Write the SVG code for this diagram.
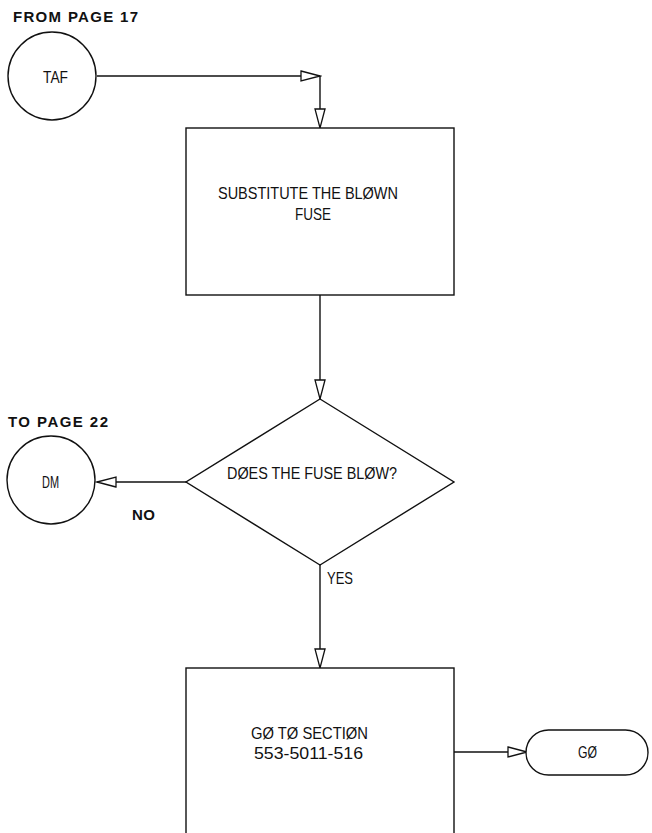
<svg xmlns="http://www.w3.org/2000/svg" width="652" height="833" viewBox="0 0 652 833">
<style>
.s{fill:none;stroke:#111;stroke-width:1.4}
.n{fill:#fff;stroke:#111;stroke-width:1.4}
.t{font-family:"Liberation Sans",Arial,sans-serif;font-size:16.5px;fill:#111}
.b{font-family:"Liberation Sans",Arial,sans-serif;font-size:15px;font-weight:bold;fill:#111}
</style>
<defs>
<marker id="ah" markerUnits="userSpaceOnUse" markerWidth="22" markerHeight="12" refX="20" refY="6" orient="auto">
<path d="M1,1 L20,6 L1,11 Z" fill="#fff" stroke="#111" stroke-width="1.3"/>
</marker>
</defs>
<rect width="652" height="833" fill="#fff"/>
<text class="b" x="13" y="22" textLength="125" lengthAdjust="spacing">FROM PAGE 17</text>
<text class="b" x="8" y="427" textLength="100" lengthAdjust="spacing">TO PAGE 22</text>
<text class="b" x="132" y="520" textLength="23" lengthAdjust="spacing">NO</text>
<g id="connectors">
<path class="s" d="M97,76 H320" marker-end="url(#ah)"/>
<path class="s" d="M320,76 V128" marker-end="url(#ah)"/>
<path class="s" d="M320,295 V399" marker-end="url(#ah)"/>
<path class="s" d="M186,482 H97" marker-end="url(#ah)"/>
<path class="s" d="M320,565 V668" marker-end="url(#ah)"/>
<path class="s" d="M454,752 H527" marker-end="url(#ah)"/>
<text class="t" x="327" y="584" textLength="26" lengthAdjust="spacingAndGlyphs">YES</text>
</g>
<g id="taf">
<circle class="n" cx="52" cy="76" r="44"/>
<text class="t" x="43" y="83" textLength="25" lengthAdjust="spacingAndGlyphs">TAF</text>
</g>
<g id="substitute">
<rect class="n" x="186" y="128" width="268" height="167"/>
<text class="t" x="218" y="199" textLength="180" lengthAdjust="spacingAndGlyphs">SUBSTITUTE THE BLØWN</text>
<text class="t" x="295" y="220" textLength="36" lengthAdjust="spacingAndGlyphs">FUSE</text>
</g>
<g id="decision">
<polygon class="n" points="320,399 454,482 320,565 186,482"/>
<text class="t" x="227" y="479" textLength="170" lengthAdjust="spacingAndGlyphs">DØES THE FUSE BLØW?</text>
</g>
<g id="dm">
<circle class="n" cx="51" cy="480" r="44"/>
<text class="t" x="42" y="488" textLength="17" lengthAdjust="spacingAndGlyphs">DM</text>
</g>
<g id="section">
<rect class="n" x="186" y="668" width="268" height="180"/>
<text class="t" x="251" y="739" textLength="117" lengthAdjust="spacingAndGlyphs">GØ TØ SECTIØN</text>
<text class="t" x="254" y="759" textLength="109" lengthAdjust="spacingAndGlyphs">553-5011-516</text>
</g>
<g id="go">
<rect class="n" x="526" y="730" width="122" height="45" rx="22.5" ry="22.5"/>
<text class="t" x="578" y="758" textLength="19" lengthAdjust="spacingAndGlyphs">GØ</text>
</g>
</svg>
